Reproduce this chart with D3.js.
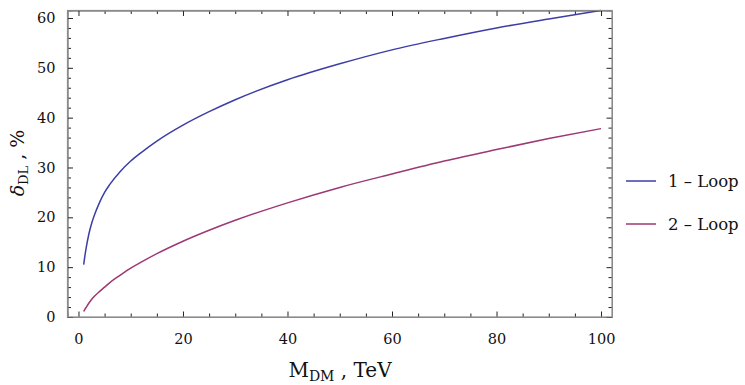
<!DOCTYPE html>
<html>
<head>
<meta charset="utf-8">
<script src="https://cdn.jsdelivr.net/npm/d3@7"></script>
<style>
  body { margin: 0; background: #fff; }
  svg { font-family: "DejaVu Serif", serif; }
  .axis path { stroke: #8a8a8a; }
  .axis line { stroke: #222; }
  .axis text { font-size: 14.5px; fill: #111; font-family: "DejaVu Serif", serif; }
</style>
</head>
<body>
<figure id="plot" style="margin:0"></figure>
<script>
// M_DM in TeV
const massTeV = [1, 1.25, 1.5, 2, 2.5, 3, 4, 5, 6, 8, 10, 12, 15, 20, 25, 30, 40, 50, 60, 70, 80, 90, 100];
// delta_DL in %
const oneLoop = [10.5, 12.4, 14.0, 16.7, 18.7, 20.3, 22.9, 25.0, 26.6, 29.2, 31.3, 33.0, 35.3, 38.5, 41.2, 43.6, 47.6, 50.8, 53.6, 55.9, 58.0, 59.8, 61.5];
const twoLoop = [1.1, 1.58, 2.0, 2.8, 3.5, 4.1, 5.1, 6.0, 6.9, 8.4, 9.8, 11.0, 12.7, 15.2, 17.4, 19.4, 22.9, 26.0, 28.7, 31.3, 33.6, 35.8, 37.8];
const xTicks = [0, 20, 40, 60, 80, 100];
const yTicks = [0, 10, 20, 30, 40, 50, 60];
const seriesNames = ["1 \u2013 Loop", "2 \u2013 Loop"];
const seriesColors = ["#3d3da6", "#9c3874"];

const width = 745, height = 385;
const svg = d3.select("figure#plot").append("svg")
  .attr("width", width).attr("height", height);

const x = d3.scaleLinear().domain([-2.1, 102.1]).range([67.5, 612]);
const y = d3.scaleLinear().domain([0, 61.5]).range([317, 10.5]);

const xMinor = d3.range(0, 101, 5).filter(v => !xTicks.includes(v));
const yMinor = d3.range(0, 62, 2).filter(v => !yTicks.includes(v));

// minor ticks on all four sides
svg.append("g").attr("class", "axis").attr("transform", "translate(0," + y.range()[0] + ")")
  .call(d3.axisBottom(x).tickValues(xMinor).tickSize(-3.5).tickFormat(""));
svg.append("g").attr("class", "axis").attr("transform", "translate(0," + y.range()[1] + ")")
  .call(d3.axisTop(x).tickValues(xMinor).tickSize(-3.5).tickFormat(""));
svg.append("g").attr("class", "axis").attr("transform", "translate(" + x.range()[0] + ",0)")
  .call(d3.axisLeft(y).tickValues(yMinor).tickSize(-3.5).tickFormat(""));
svg.append("g").attr("class", "axis").attr("transform", "translate(" + x.range()[1] + ",0)")
  .call(d3.axisRight(y).tickValues(yMinor).tickSize(-3.5).tickFormat(""));

// major ticks
svg.append("g").attr("class", "axis").attr("transform", "translate(0," + y.range()[0] + ")")
  .call(d3.axisBottom(x).tickValues(xTicks).tickSize(-5.5).tickPadding(17).tickFormat(d3.format("d")));
svg.append("g").attr("class", "axis").attr("transform", "translate(0," + y.range()[1] + ")")
  .call(d3.axisTop(x).tickValues(xTicks).tickSize(-5.5).tickFormat(""));
svg.append("g").attr("class", "axis").attr("transform", "translate(" + x.range()[0] + ",0)")
  .call(d3.axisLeft(y).tickValues(yTicks).tickSize(-5.5).tickPadding(12).tickFormat(d3.format("d")));
svg.append("g").attr("class", "axis").attr("transform", "translate(" + x.range()[1] + ",0)")
  .call(d3.axisRight(y).tickValues(yTicks).tickSize(-5.5).tickFormat(""));

// curves
const line = d3.line()
  .x(d => x(d[0]))
  .y(d => y(d[1]))
  .curve(d3.curveMonotoneX);

[oneLoop, twoLoop].forEach((vals, i) => {
  svg.append("path")
    .datum(massTeV.map((m, j) => [m, vals[j]]))
    .attr("fill", "none")
    .attr("stroke", seriesColors[i])
    .attr("stroke-width", 1.5)
    .attr("d", line);
});

// frame on top
svg.append("rect")
  .attr("x", x.range()[0]).attr("y", y.range()[1])
  .attr("width", x.range()[1] - x.range()[0])
  .attr("height", y.range()[0] - y.range()[1])
  .attr("fill", "none").attr("stroke", "#8a8a8a").attr("stroke-width", 1.2);

// axis titles
const xt = svg.append("text")
  .attr("x", 340).attr("y", 377)
  .attr("text-anchor", "middle")
  .attr("font-size", 20).attr("fill", "#111");
xt.append("tspan").text("M");
xt.append("tspan").attr("font-size", 14).attr("dy", 4).text("DM");
xt.append("tspan").attr("dy", -4).text(" ,  TeV");

const yt = svg.append("text")
  .attr("transform", "translate(24,163) rotate(-90)")
  .attr("text-anchor", "middle")
  .attr("font-size", 19).attr("fill", "#111");
yt.append("tspan").attr("font-style", "italic").text("\u03b4");
yt.append("tspan").attr("font-size", 13).attr("dy", 4).text("DL");
yt.append("tspan").attr("dy", -4).text(" ,  %");

// legend
const legend = svg.append("g").attr("transform", "translate(626,0)");
seriesNames.forEach((name, i) => {
  const ly = 181 + i * 43;
  legend.append("line")
    .attr("x1", 0).attr("x2", 30).attr("y1", ly).attr("y2", ly)
    .attr("stroke", seriesColors[i]).attr("stroke-width", 1.5);
  legend.append("text")
    .attr("x", 42).attr("y", ly + 6)
    .attr("font-size", 16.5).attr("fill", "#111")
    .text(name);
});
</script>
</body>
</html>
